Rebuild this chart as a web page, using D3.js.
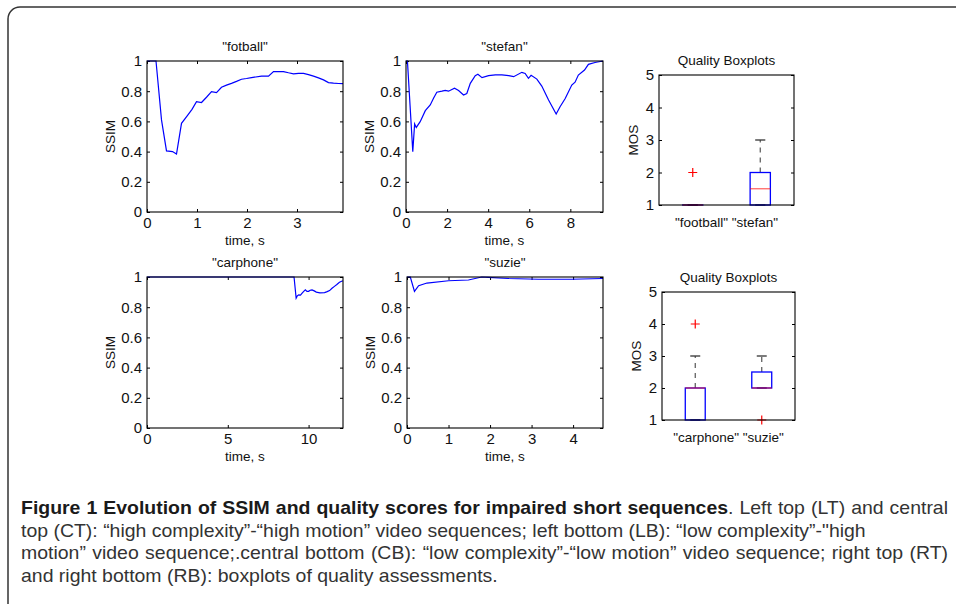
<!DOCTYPE html>
<html>
<head>
<meta charset="utf-8">
<script src="https://cdn.jsdelivr.net/npm/d3@7"></script>
<style>
  body { margin: 0; background: #fff; }
  svg { display: block; }
  text { font-family: "Liberation Sans", Arial, Helvetica, sans-serif; }
</style>
</head>
<body>
<svg id="fig" width="956" height="604"></svg>
<script>
// ---- data ----
// SSIM traces (time in s, SSIM)
const fotT = [0, 0.18, 0.29, 0.39, 0.51, 0.59, 0.69, 0.8, 0.9, 0.99, 1.09, 1.19, 1.29, 1.39, 1.49, 1.59, 1.69, 1.79, 1.89, 1.99, 2.09, 2.29, 2.43, 2.53, 2.73, 2.83, 2.93, 3.03, 3.13, 3.23, 3.33, 3.43, 3.53, 3.63, 3.73, 3.83, 3.92];
const fotV = [1, 1, 0.61, 0.405, 0.40, 0.384, 0.587, 0.635, 0.68, 0.73, 0.725, 0.76, 0.797, 0.79, 0.826, 0.84, 0.852, 0.865, 0.879, 0.884, 0.89, 0.90, 0.90, 0.93, 0.93, 0.922, 0.915, 0.918, 0.918, 0.91, 0.90, 0.888, 0.875, 0.857, 0.853, 0.851, 0.85];

const stefT = [0, 0.07, 0.33, 0.42, 0.5, 0.69, 0.94, 1.18, 1.34, 1.5, 1.75, 1.91, 2.07, 2.36, 2.56, 2.8, 2.96, 3.13, 3.37, 3.5, 3.7, 4.02, 4.35, 4.67, 5.0, 5.24, 5.64, 5.8, 5.96, 6.09, 6.37, 6.61, 6.94, 7.31, 7.5, 7.75, 8.07, 8.23, 8.39, 8.69, 8.88, 9.2, 9.59];
const stefV = [1, 1, 0.40, 0.583, 0.56, 0.598, 0.671, 0.709, 0.753, 0.793, 0.80, 0.805, 0.80, 0.82, 0.805, 0.775, 0.785, 0.852, 0.903, 0.912, 0.89, 0.903, 0.908, 0.908, 0.903, 0.896, 0.925, 0.918, 0.885, 0.905, 0.88, 0.834, 0.742, 0.649, 0.697, 0.752, 0.841, 0.86, 0.907, 0.94, 0.978, 0.99, 1.0];

const carT = [0, 9.1, 9.23, 9.3, 9.39, 9.5, 9.6, 9.7, 9.8, 9.9, 10.0, 10.1, 10.21, 10.35, 10.48, 10.7, 10.99, 11.15, 11.3, 11.45, 11.6, 11.75, 11.91, 12.12];
const carV = [1, 1, 0.86, 0.875, 0.882, 0.88, 0.893, 0.905, 0.915, 0.905, 0.905, 0.912, 0.915, 0.908, 0.90, 0.895, 0.897, 0.903, 0.91, 0.925, 0.938, 0.95, 0.965, 0.975];

const suzT = [0, 0.08, 0.18, 0.28, 0.48, 1.0, 1.48, 1.8, 1.96, 2.44, 3.16, 3.96, 4.72];
const suzV = [1, 1, 0.905, 0.942, 0.96, 0.975, 0.98, 1.0, 0.998, 0.99, 0.985, 0.985, 0.99];

const ssimTicks = [0, 0.2, 0.4, 0.6, 0.8, 1];
const mosTicks = [1, 2, 3, 4, 5];

// boxplot stats (MOS)
const topCats = ['"football"', '"stefan"'];
const topQ1 = [1, 1], topMed = [1, 1.5], topQ3 = [1, 2], topLo = [1, 1], topHi = [1, 3];
const topOut = [[2], []];

const botCats = ['"carphone"', '"suzie"'];
const botQ1 = [1, 2], botMed = [2, 2], botQ3 = [2, 2.5], botLo = [1, 2], botHi = [3, 3];
const botOut = [[4], [1]];

const captionLines = [
  ['Figure 1 Evolution of SSIM and quality scores for impaired short sequences', '. Left top (LT) and central'],
  ['', 'top (CT): \u201chigh complexity\u201d-\u201chigh motion\u201d video sequences; left bottom (LB): \u201clow complexity\u201d-"high'],
  ['', 'motion\u201d video sequence;.central bottom (CB): \u201clow complexity\u201d-\u201clow motion\u201d video sequence; right top (RT)'],
  ['', 'and right bottom (RB): boxplots of quality assessments.']
];
const captionJustify = [true, false, true, false];

// ---- drawing ----
const svg = d3.select('#fig');
const FS = 13.5;   // titles, axis labels
const TFS = 15;    // tick labels

svg.append('rect')
  .attr('x', 8).attr('y', 7).attr('width', 1000).attr('height', 700)
  .attr('rx', 12).attr('fill', 'none').attr('stroke', '#333').attr('stroke-width', 1.5);

function styleAxis(g) {
  g.select('.domain').remove();
  g.attr('font-size', TFS).attr('font-family', null);
  g.selectAll('.tick line').attr('stroke', '#000');
  g.selectAll('.tick text').attr('fill', '#111');
}

function linePanel(p) {
  const g = svg.append('g');
  const x = d3.scaleLinear().domain([0, p.xmax]).range([p.left, p.right]);
  const y = d3.scaleLinear().domain([0, 1]).range([p.bottom, p.top]);
  const fmt = d3.format('~g');

  g.append('g').attr('transform', `translate(0,${p.bottom})`)
    .call(d3.axisBottom(x).tickValues(p.xticks).tickSize(-3).tickSizeOuter(0).tickPadding(5).tickFormat(fmt))
    .call(styleAxis);
  g.append('g').attr('transform', `translate(0,${p.top})`)
    .call(d3.axisTop(x).tickValues(p.xticks).tickSize(-3).tickSizeOuter(0).tickFormat(''))
    .call(styleAxis);
  g.append('g').attr('transform', `translate(${p.left},0)`)
    .call(d3.axisLeft(y).tickValues(ssimTicks).tickSize(-3).tickSizeOuter(0).tickPadding(5).tickFormat(fmt))
    .call(styleAxis);
  g.append('g').attr('transform', `translate(${p.right},0)`)
    .call(d3.axisRight(y).tickValues(ssimTicks).tickSize(-3).tickSizeOuter(0).tickFormat(''))
    .call(styleAxis);

  const line = d3.line().x((d, i) => x(p.t[i])).y(d => y(d));
  g.append('path').datum(p.v)
    .attr('d', line).attr('fill', 'none')
    .attr('stroke', '#0000ff').attr('stroke-width', 1.2);

  g.append('rect')
    .attr('x', p.left).attr('y', p.top)
    .attr('width', p.right - p.left).attr('height', p.bottom - p.top)
    .attr('fill', 'none').attr('stroke', '#000').attr('stroke-width', 1.1);

  const cx = (p.left + p.right) / 2;
  g.append('text').attr('x', cx).attr('y', p.top - 10)
    .attr('text-anchor', 'middle').attr('font-size', FS).attr('fill', '#111').text(p.title);
  g.append('text').attr('x', cx).attr('y', p.bottom + 33)
    .attr('text-anchor', 'middle').attr('font-size', FS).attr('fill', '#111').text('time, s');
  g.append('text')
    .attr('transform', `translate(${p.left - 32},${(p.top + p.bottom) / 2}) rotate(-90)`)
    .attr('text-anchor', 'middle').attr('font-size', FS).attr('fill', '#111').text('SSIM');
}

function boxPanel(p) {
  const g = svg.append('g');
  const x = d3.scaleLinear().domain([0.5, 2.5]).range([p.left, p.right]);
  const y = d3.scaleLinear().domain([1, 5]).range([p.bottom, p.top]);
  const bw = 0.3, cw = 0.15;

  g.append('g').attr('transform', `translate(${p.left},0)`)
    .call(d3.axisLeft(y).tickValues(mosTicks).tickSize(-3).tickSizeOuter(0).tickPadding(5).tickFormat(d3.format('d')))
    .call(styleAxis);
  g.append('g').attr('transform', `translate(${p.right},0)`)
    .call(d3.axisRight(y).tickValues(mosTicks).tickSize(-3).tickSizeOuter(0).tickFormat(''))
    .call(styleAxis);

  p.cats.forEach((c, i) => {
    const pos = i + 1;
    // whiskers
    if (p.hi[i] > p.q3[i]) {
      g.append('line').attr('x1', x(pos)).attr('x2', x(pos))
        .attr('y1', y(p.q3[i])).attr('y2', y(p.hi[i]))
        .attr('stroke', '#555').attr('stroke-width', 1.2).attr('stroke-dasharray', '5,5');
    }
    if (p.lo[i] < p.q1[i]) {
      g.append('line').attr('x1', x(pos)).attr('x2', x(pos))
        .attr('y1', y(p.q1[i])).attr('y2', y(p.lo[i]))
        .attr('stroke', '#555').attr('stroke-width', 1.2).attr('stroke-dasharray', '5,5');
    }
    [p.lo[i], p.hi[i]].forEach(v => {
      g.append('line').attr('x1', x(pos - cw / 2)).attr('x2', x(pos + cw / 2))
        .attr('y1', y(v)).attr('y2', y(v))
        .attr('stroke', '#333').attr('stroke-width', 1.3);
    });
    // box
    g.append('rect')
      .attr('x', x(pos - bw / 2)).attr('y', y(p.q3[i]))
      .attr('width', x(pos + bw / 2) - x(pos - bw / 2))
      .attr('height', Math.max(y(p.q1[i]) - y(p.q3[i]), 0.01))
      .attr('fill', 'none').attr('stroke', '#0000ff').attr('stroke-width', 1.3);
    // median
    g.append('line').attr('x1', x(pos - bw / 2)).attr('x2', x(pos + bw / 2))
      .attr('y1', y(p.med[i])).attr('y2', y(p.med[i]))
      .attr('stroke', '#ff0000').attr('stroke-opacity', 0.6).attr('stroke-width', 1.3);
    // outliers
    p.out[i].forEach(v => {
      g.append('path')
        .attr('d', `M${x(pos) - 4.5},${y(v)}h9M${x(pos)},${y(v) - 4.5}v9`)
        .attr('stroke', '#ff0000').attr('stroke-width', 1.2).attr('fill', 'none');
    });
  });

  g.append('rect')
    .attr('x', p.left).attr('y', p.top)
    .attr('width', p.right - p.left).attr('height', p.bottom - p.top)
    .attr('fill', 'none').attr('stroke', '#000').attr('stroke-width', 1.1);

  const cx = (p.left + p.right) / 2;
  g.append('text').attr('x', cx).attr('y', p.top - 10)
    .attr('text-anchor', 'middle').attr('font-size', FS).attr('fill', '#111').text('Quality Boxplots');
  g.append('text').attr('x', cx).attr('y', p.bottom + 22)
    .attr('text-anchor', 'middle').attr('font-size', FS).attr('fill', '#111').text(p.cats.join(' '));
  g.append('text')
    .attr('transform', `translate(${p.left - 21},${(p.top + p.bottom) / 2}) rotate(-90)`)
    .attr('text-anchor', 'middle').attr('font-size', FS).attr('fill', '#111').text('MOS');
}

linePanel({ title: '"fotball"', left: 147, right: 343, top: 61, bottom: 212, xmax: 3.92, xticks: [0, 1, 2, 3], t: fotT, v: fotV });
linePanel({ title: '"stefan"', left: 406, right: 603, top: 61, bottom: 212, xmax: 9.59, xticks: [0, 2, 4, 6, 8], t: stefT, v: stefV });
linePanel({ title: '"carphone"', left: 147, right: 343, top: 277, bottom: 428, xmax: 12.13, xticks: [0, 5, 10], t: carT, v: carV });
linePanel({ title: '"suzie"', left: 407, right: 603, top: 277, bottom: 428, xmax: 4.72, xticks: [0, 1, 2, 3, 4], t: suzT, v: suzV });

boxPanel({ left: 659, right: 794, top: 75, bottom: 205, cats: topCats, q1: topQ1, med: topMed, q3: topQ3, lo: topLo, hi: topHi, out: topOut });
boxPanel({ left: 662, right: 795, top: 292, bottom: 420, cats: botCats, q1: botQ1, med: botMed, q3: botQ3, lo: botLo, hi: botHi, out: botOut });

// caption: condensed by a horizontal scale taken from the last (unjustified) line
const capX = 21, capY = [514, 537, 559, 582], capFull = 927, lastW = 477;
const capG = svg.append('g')
  .attr('font-family', '"Open Sans", sans-serif').attr('font-size', 18).attr('fill', '#333');
const probe = capG.append('text').text(captionLines[3][1]);
const k = lastW / probe.node().getComputedTextLength();
probe.remove();

captionLines.forEach((ln, i) => {
  const t = capG.append('text')
    .attr('transform', `translate(${capX},${capY[i]}) scale(${k},1)`);
  if (ln[0]) t.append('tspan').attr('font-weight', 'bold').attr('fill', '#1a1a1a').text(ln[0]);
  t.append('tspan').text(ln[1]);
  if (captionJustify[i]) {
    const w = t.node().getComputedTextLength();
    const spaces = (ln[0] + ln[1]).split(' ').length - 1;
    t.style('word-spacing', ((capFull / k - w) / spaces) + 'px');
  }
});
</script>
</body>
</html>
